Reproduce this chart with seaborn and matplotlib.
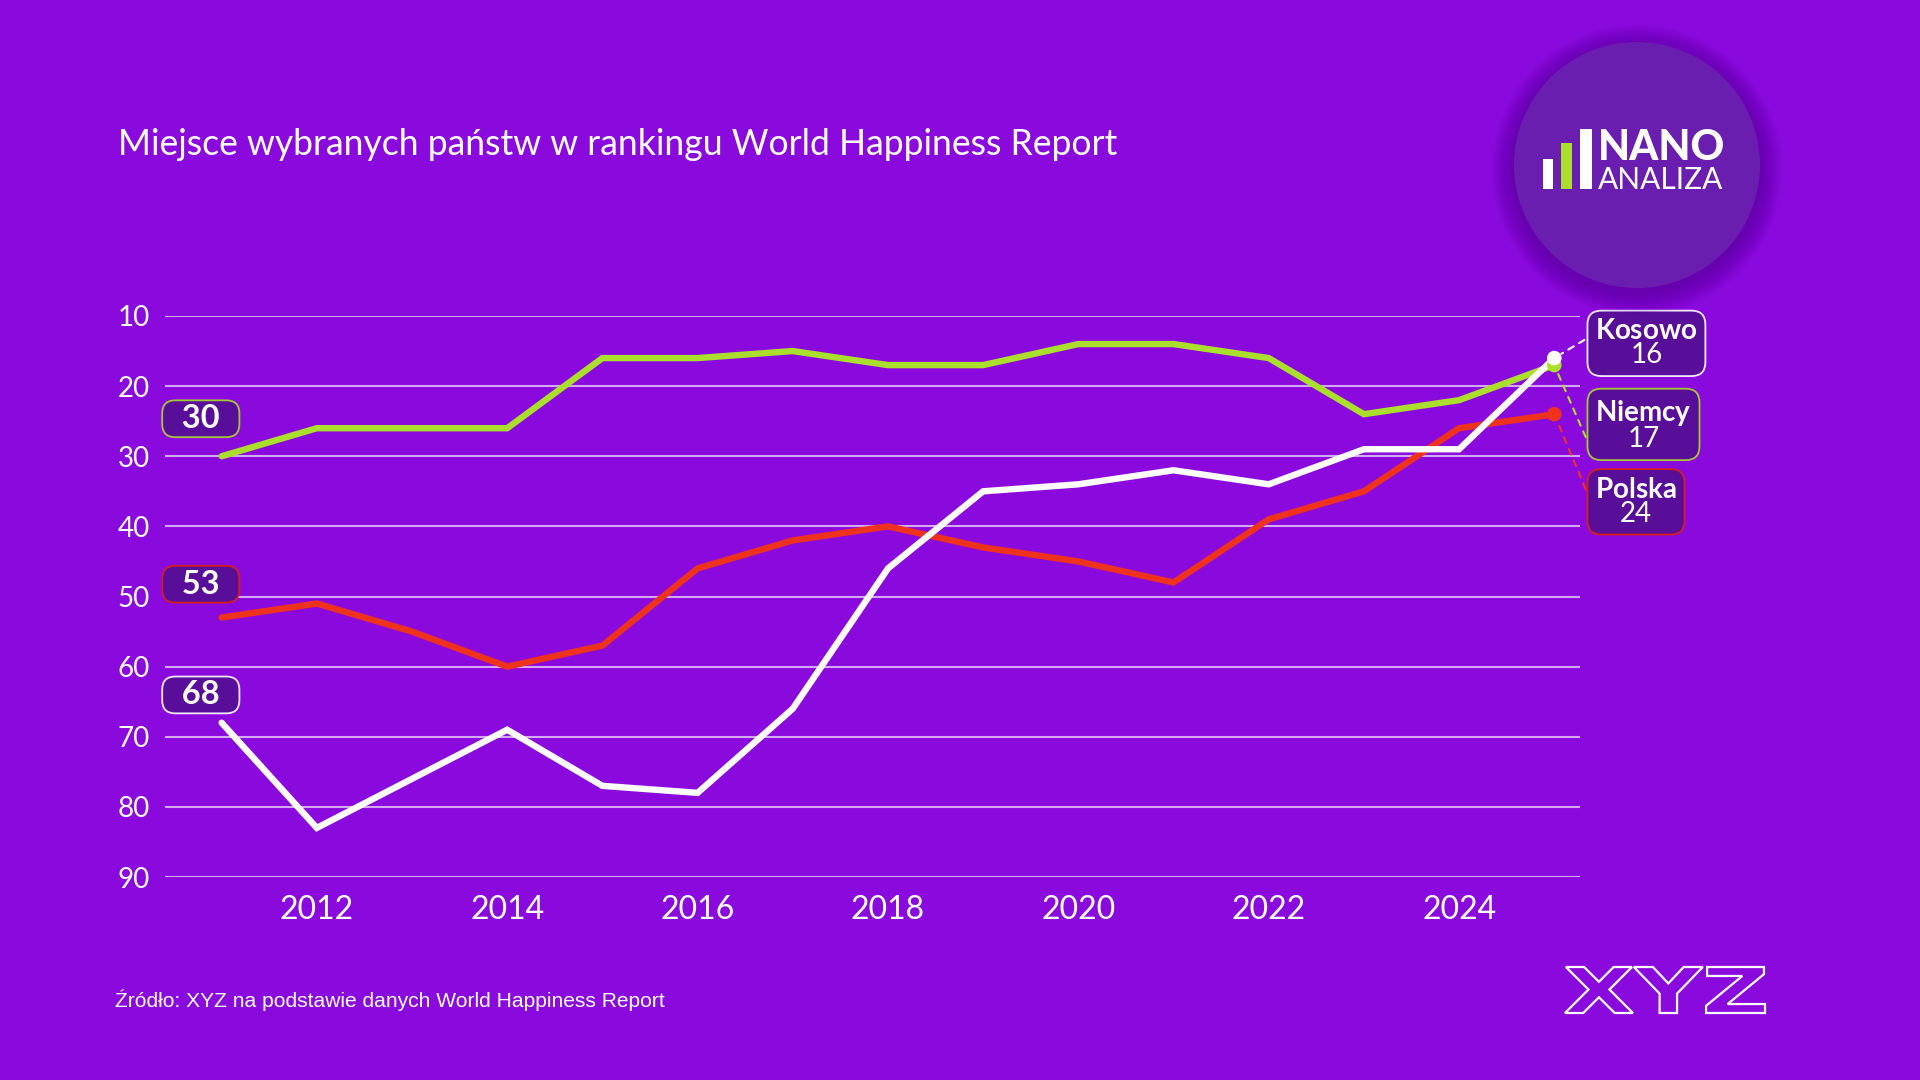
import numpy as np
import pandas as pd
import matplotlib
matplotlib.use("Agg")
import matplotlib.pyplot as plt
import seaborn as sns
from matplotlib.patches import Circle, Rectangle, PathPatch
from matplotlib.textpath import TextPath
from matplotlib.font_manager import FontProperties
from matplotlib.transforms import Affine2D

# ---------------- data ----------------
years = list(range(2011, 2026))
countries = ["Niemcy", "Polska", "Kosowo"]
niemcy = [30, 26, 26, 26, 16, 16, 15, 17, 17, 14, 14, 16, 24, 22, 17]
polska = [53, 51, 55, 60, 57, 46, 42, 40, 43, 45, 48, 39, 35, 26, 24]
kosowo = [68, 83, 76, 69, 77, 78, 66, 46, 35, 34, 32, 34, 29, 29, 16]
y_ticks = [10, 20, 30, 40, 50, 60, 70, 80, 90]
x_ticks = [2012, 2014, 2016, 2018, 2020, 2022, 2024]
title = "Miejsce wybranych państw w rankingu World Happiness Report"
source = "Źródło: XYZ na podstawie danych World Happiness Report"

# ---------------- style ----------------
BG = "#8A09DD"
BOX = "#580E98"
colors = {"Niemcy": "#AADF2E", "Polska": "#EF321E", "Kosowo": "#FFFFFF"}
box_edges = {"Niemcy": "#A4C83A", "Polska": "#D41E1E", "Kosowo": "#F2E8FF"}
start_offsets = {"Niemcy": 27, "Polska": 24, "Kosowo": 20}   # points above first point
end_label_y = {"Kosowo": 13.9, "Niemcy": 25.6, "Polska": 36.5}  # label box positions
end_relpos = {"Kosowo": (0.0, 0.7), "Niemcy": (-0.03, 0.0), "Polska": (0.0, 0.3)}

sns.set_theme(style="white")
plt.rcParams["font.family"] = ["Lato", "DejaVu Sans"]
plt.rcParams["mathtext.fontset"] = "custom"
plt.rcParams["mathtext.rm"] = "Lato"
plt.rcParams["mathtext.bf"] = "Lato:bold"

df = pd.DataFrame({
    "year": years * 3,
    "rank": niemcy + polska + kosowo,
    "country": ["Niemcy"] * len(years) + ["Polska"] * len(years) + ["Kosowo"] * len(years),
})

W, H = 1920, 1080
fig = plt.figure(figsize=(19.2, 10.8), dpi=100, facecolor=BG)
px = Affine2D().scale(1 / W, 1 / H) + fig.transFigure

ax = fig.add_axes([165 / W, 1 - 877 / H, (1580 - 165) / W, (877 - 316) / H])
ax.set_facecolor(BG)

for z, c in zip([3, 4, 5], countries):
    sub = df[df["country"] == c]
    sns.lineplot(data=sub, x="year", y="rank", color=colors[c], lw=4.6,
                 estimator=None, ax=ax, zorder=z, solid_capstyle="round",
                 solid_joinstyle="miter")

for z, c in zip([6, 7, 8], countries):
    sub = df[(df["country"] == c) & (df["year"] == years[-1])]
    sns.scatterplot(data=sub, x="year", y="rank", color=colors[c], s=110,
                    edgecolor="none", ax=ax, zorder=z)

ax.set_ylim(90, 10)
ax.set_yticks(y_ticks)
ax.set_xlim(2010.405, 2025.27)
ax.set_xticks(x_ticks)
ax.set_xlabel("")
ax.set_ylabel("")
ax.grid(axis="y", color="white", alpha=0.65, lw=1.5)
ax.grid(axis="x", visible=False)
ax.set_axisbelow(True)
for s in ax.spines.values():
    s.set_visible(False)
ax.tick_params(axis="y", length=0, colors="white", labelsize=20, pad=11)
ax.tick_params(axis="x", length=0, colors="white", labelsize=23, pad=13)
for lab in ax.get_yticklabels() + ax.get_xticklabels():
    lab.set_color("white")

# start labels
series = {"Niemcy": niemcy, "Polska": polska, "Kosowo": kosowo}
for c in countries:
    v = series[c][0]
    ax.annotate(f"  {v}  ", xy=(years[0], v), xytext=(-15, start_offsets[c]),
                textcoords="offset points", ha="center", va="center",
                fontsize=23.5, fontweight="bold", color="white", zorder=10,
                annotation_clip=False,
                bbox=dict(boxstyle="round,pad=0.12,rounding_size=0.4", fc=BOX,
                          ec=box_edges[c], lw=1.3))

# end labels
for c in ["Kosowo", "Niemcy", "Polska"]:
    v = series[c][-1]
    ax.annotate(r"$\mathbf{" + c + "}$" + f"\n{v}", xy=(years[-1], v),
                xytext=(2025.43, end_label_y[c]), textcoords="data",
                ha="left", va="center", multialignment="center",
                fontsize=20, color="white", linespacing=0.9, zorder=10,
                annotation_clip=False,
                bbox=dict(boxstyle="round,pad=0.28,rounding_size=0.5", fc=BOX,
                          ec=box_edges[c], lw=1.3),
                arrowprops=dict(arrowstyle="-", color=colors[c], lw=1.5,
                                linestyle=(0, (3, 3)), shrinkA=2, shrinkB=6,
                                relpos=end_relpos[c]))

# title and source
fig.text(118 / W, 1 - 155 / H, title, color="white", fontsize=25.6,
         va="baseline", ha="left")
fig.text(115 / W, 1 - 1000 / H, source, color="white", fontsize=15.1,
         family=["Liberation Sans", "DejaVu Sans"], va="center", ha="left")

# NANO ANALIZA logo
cx, cy, r = 1637, H - 165, 123
for i in range(14, 0, -1):
    fig.add_artist(Circle((cx, cy - 5), r + i * 1.6, transform=px,
                          fc="#3E0078", ec="none", alpha=0.035))
fig.add_artist(Circle((cx, cy), r, transform=px, fc="#6A1EB0", ec="none"))
fig.add_artist(Rectangle((1543, H - 189), 10, 30, transform=px, fc="white", ec="none"))
fig.add_artist(Rectangle((1561, H - 189), 11, 46, transform=px, fc="#AADF2E", ec="none"))
fig.add_artist(Rectangle((1580, H - 189), 12, 60, transform=px, fc="white", ec="none"))
fig.text(1598 / W, 1 - 160 / H, "NANO", color="white", fontsize=30,
         fontweight="black", va="baseline", ha="left")
fig.text(1598 / W, 1 - 189 / H, "ANALIZA", color="white", fontsize=21.5,
         va="baseline", ha="left")

# XYZ outline logo
tp = TextPath((0, 0), "XYZ", size=100, prop=FontProperties(family="DejaVu Sans", weight="bold"))
ext = tp.get_extents()
tr = (Affine2D().translate(-ext.x0, -ext.y0)
      .scale(200 / ext.width, 46 / ext.height)
      .translate(1565, H - 1013))
fig.add_artist(PathPatch(tr.transform_path(tp), transform=px, fc="none",
                         ec="white", lw=1.6))

fig.savefig("out.png", dpi=100, facecolor=BG)
